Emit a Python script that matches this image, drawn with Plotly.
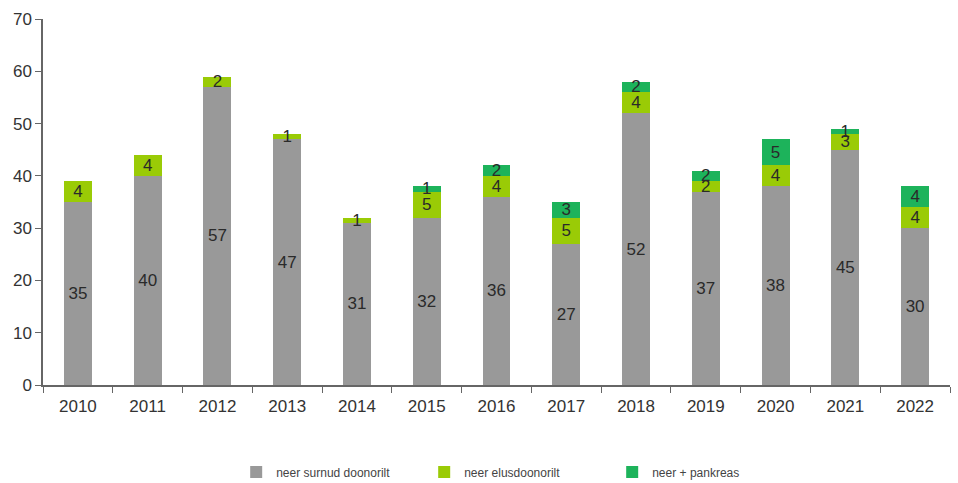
import plotly.graph_objects as go

years = ["2010", "2011", "2012", "2013", "2014", "2015", "2016",
         "2017", "2018", "2019", "2020", "2021", "2022"]
surnud = [35, 40, 57, 47, 31, 32, 36, 27, 52, 37, 38, 45, 30]
elus = [4, 4, 2, 1, 1, 5, 4, 5, 4, 2, 4, 3, 4]
pankreas = [0, 0, 0, 0, 0, 1, 2, 3, 2, 2, 5, 1, 4]

series = [
    ("neer surnud doonorilt", surnud, "#999999"),
    ("neer elusdoonorilt", elus, "#9acb06"),
    ("neer + pankreas", pankreas, "#1db35b"),
]

fig = go.Figure()
for name, vals, color in series:
    fig.add_trace(go.Bar(
        x=years, y=vals, name=name,
        marker=dict(color=color, line=dict(width=0)),
        text=[str(v) if v else "" for v in vals],
        textposition="inside", insidetextanchor="middle",
        textangle=0,
        textfont=dict(size=17, color="#2a2a2a"),
        hoverinfo="x+y+name",
    ))

font_family = "Liberation Sans, Arial, sans-serif"
fig.update_layout(
    barmode="stack",
    bargap=0.6,
    width=958, height=483,
    margin=dict(l=43, r=8, t=19, b=98, autoexpand=False),
    paper_bgcolor="white", plot_bgcolor="white",
    font=dict(family=font_family, size=17, color="#333333"),
    uniformtext=dict(minsize=17, mode="show"),
    showlegend=True,
    legend=dict(
        orientation="h", x=0.213, xanchor="left", y=-0.238, yanchor="middle",
        font=dict(size=12, color="#444444"),
        entrywidth=143, itemwidth=30,
        traceorder="normal",
    ),
    xaxis=dict(
        type="category",
        showline=True, linecolor="#666666", linewidth=1.5,
        ticks="outside", ticklen=6, tickcolor="#666666",
        tickson="boundaries",
        ticklabelstandoff=5,
        showgrid=False,
        tickfont=dict(size=17, color="#333333"),
    ),
    yaxis=dict(
        range=[0, 70], dtick=10,
        showline=True, linecolor="#666666", linewidth=1.5,
        ticks="outside", ticklen=6, tickcolor="#666666",
        showgrid=False, zeroline=False,
        tickfont=dict(size=17, color="#333333"),
    ),
)

fig.write_html("out.html")
